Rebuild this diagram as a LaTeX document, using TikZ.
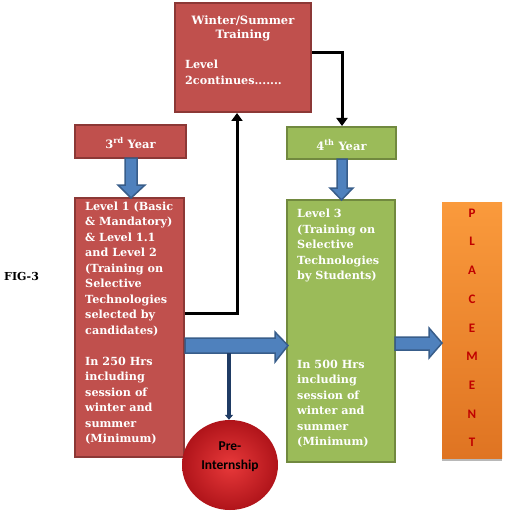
\documentclass[tikz,border=0pt]{standalone}
\usepackage{fontspec}
\setmainfont{DejaVu Serif}
\newfontfamily\calib{Carlito}
\usetikzlibrary{calc,shadows,shapes.geometric,arrows.meta}
\definecolor{redfill}{HTML}{C0504D}
\definecolor{redline}{HTML}{8C3836}
\definecolor{greenfill}{HTML}{9BBB59}
\definecolor{greenline}{HTML}{71893F}
\definecolor{bluefill}{HTML}{4F81BD}
\definecolor{blueline}{HTML}{385D8A}
\definecolor{navy}{HTML}{1F3B64}
\definecolor{orangetop}{HTML}{FA9A3C}
\definecolor{orangebot}{HTML}{DF7422}
\definecolor{placered}{HTML}{C00000}
\definecolor{circin}{HTML}{E8393A}
\definecolor{circout}{HTML}{B0141A}
\tikzset{
  redbox/.style={draw=redline, fill=redfill, line width=2pt, inner sep=0pt},
  greenbox/.style={draw=greenline, fill=greenfill, line width=2pt, inner sep=0pt},
  boxtext/.style={text=white, font=\bfseries\fontsize{11.2}{15.5}\selectfont, align=left, inner sep=0pt},
  headtext/.style={text=white, font=\bfseries\fontsize{11.5}{14}\selectfont, align=center, inner sep=0pt},
  blockarrow/.style={draw=blueline, fill=bluefill, line width=1.5pt, line join=miter},
  blackconn/.style={draw=black, line width=3pt, -{Triangle[length=8pt,width=11pt]}},
  letter/.style={text=placered, font=\calib\bfseries\fontsize{13}{15}\selectfont, inner sep=0pt}
}
\begin{document}
\begin{tikzpicture}[x=1pt,y=-1pt]
\useasboundingbox (0,0) rectangle (504,513);
% boxes
\node[redbox, minimum width=136, minimum height=109] (win) at (243,57.5) {};
\node[redbox, minimum width=111, minimum height=33] (y3) at (130.5,141.5) {};
\node[redbox, minimum width=109, minimum height=259] (l1) at (129.5,327.5) {};
\node[greenbox, minimum width=109, minimum height=32] (y4) at (341.5,143) {};
\node[greenbox, minimum width=108, minimum height=262] (l3) at (341,331) {};
\node[draw=none, top color=orangetop, bottom color=orangebot, minimum width=60, minimum height=256, inner sep=0pt,
      drop shadow={shadow xshift=0pt, shadow yshift=-2.5pt, fill=gray!70, opacity=0.8}] (pl) at (472,330) {};
\node[ellipse, minimum width=96, minimum height=90, inner sep=0pt, shading=radial,
      inner color=circin, outer color=circout] (pre) at (230,465) {};
% texts
\node[headtext] (wint) at (243,28) {Winter/Summer\\Training};
\node[boxtext, anchor=north west] (wint2) at (185,60) {Level\\2continues.......};
\node[headtext] (y3t) at (130.5,143) {3\textsuperscript{rd} Year};
\node[headtext] (y4t) at (341.5,145) {4\textsuperscript{th} Year};
\node[boxtext, anchor=north west] (l1t) at (85,201.5) {Level 1 (Basic\\\& Mandatory)\\\& Level 1.1\\and Level 2\\(Training on\\Selective\\Technologies\\selected by\\candidates)\\[15.5pt]In 250 Hrs\\including\\session of\\winter and\\summer\\(Minimum)};
\node[boxtext, anchor=north west] (l3ta) at (297,209) {Level 3\\(Training on\\Selective\\Technologies\\by Students)};
\node[boxtext, anchor=north west] (l3tb) at (297,359.5) {In 500 Hrs\\including\\session of\\winter and\\summer\\(Minimum)};
\foreach \l [count=\i from 0] in {P,L,A,C,E,M,E,N,T}
  \node[letter] (p\i) at (472,213+28.7*\i) {\l};
\node[text=black, font=\calib\bfseries\fontsize{13.5}{19}\selectfont, align=center] (pret) at (230,457) {Pre-\\Internship};
\node[font=\bfseries\fontsize{11}{12}\selectfont, anchor=west, inner sep=0pt] (fig) at (4,276) {FIG-3};
% black connectors
\coordinate (c1) at (342,53);
\draw[blackconn] (win.east |- c1) -- (c1) -- (c1 |- y4.north);
\coordinate (c2) at (237,313);
\draw[blackconn] (l1.east |- c2) -- (c2) -- (c2 |- win.south);
% vertical block arrows
\draw[blockarrow] (125,158) -- (137,158) -- (137,185) -- (145,185) -- (131,198) -- (118,185) -- (125,185) -- cycle;
\draw[blockarrow] (337,159) -- (347,159) -- (347,188) -- (353,188) -- (341.5,200) -- (330,188) -- (337,188) -- cycle;
% horizontal block arrows
\draw[blockarrow] (185,338) -- (275,338) -- (275,332) -- (288,345.5) -- (275,362) -- (275,353) -- (185,353) -- cycle;
\draw[blockarrow] (395,337) -- (429,337) -- (429,328) -- (442,343) -- (429,358) -- (429,350) -- (395,350) -- cycle;
% pre-internship connector
\coordinate (c3) at (229,353);
\draw[navy, line width=3.5pt, -{Triangle[length=5pt,width=8pt]}] (c3) -- (c3 |- pre.north);
\end{tikzpicture}
\end{document}
